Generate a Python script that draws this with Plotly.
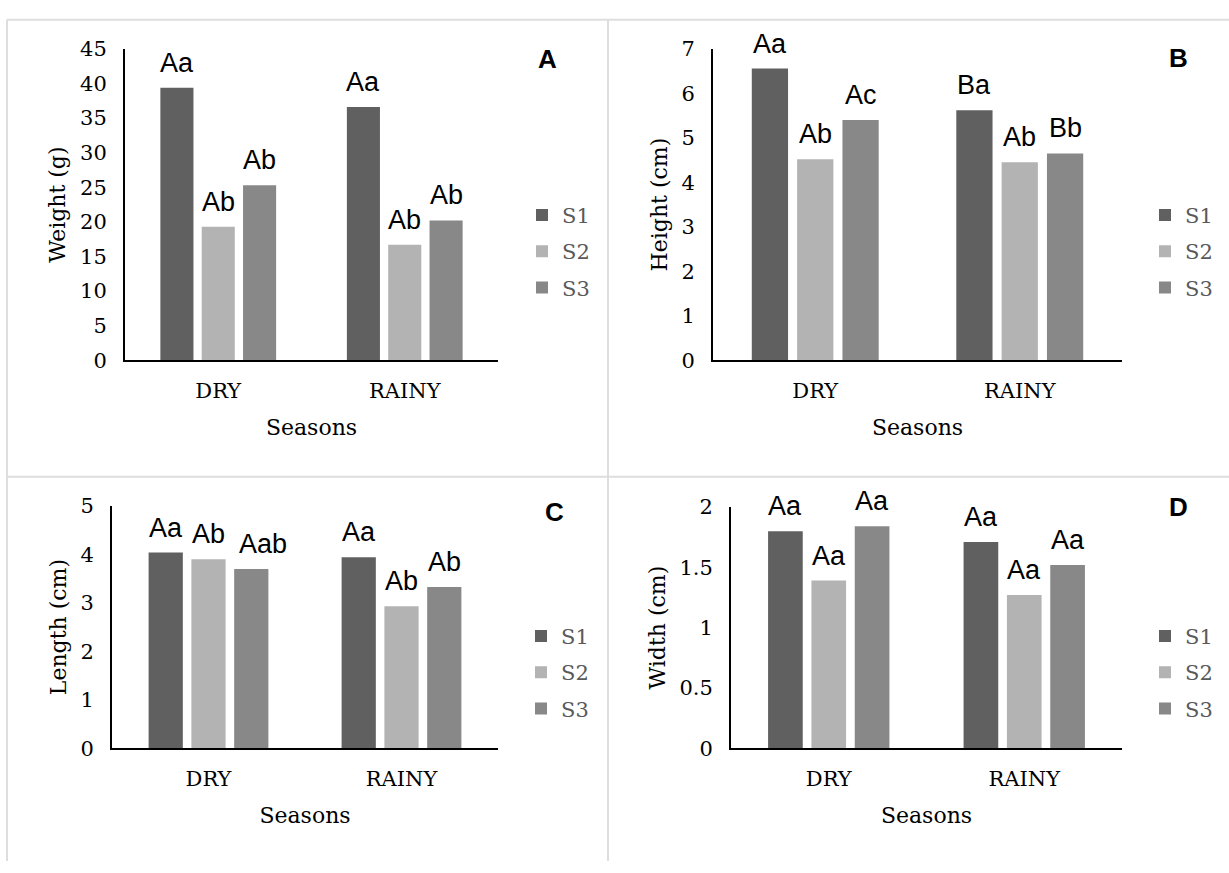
import plotly.graph_objects as go

# ---------------- data ----------------
seasons = ["DRY", "RAINY"]
series = ["S1", "S2", "S3"]

weight_S1 = [39.4, 36.6]
weight_S2 = [19.3, 16.7]
weight_S3 = [25.3, 20.2]
weight_lbl_S1 = ["Aa", "Aa"]
weight_lbl_S2 = ["Ab", "Ab"]
weight_lbl_S3 = ["Ab", "Ab"]

height_S1 = [6.56, 5.62]
height_S2 = [4.52, 4.45]
height_S3 = [5.40, 4.65]
height_lbl_S1 = ["Aa", "Ba"]
height_lbl_S2 = ["Ab", "Ab"]
height_lbl_S3 = ["Ac", "Bb"]

length_S1 = [4.04, 3.94]
length_S2 = [3.90, 2.93]
length_S3 = [3.70, 3.33]
length_lbl_S1 = ["Aa", "Aa"]
length_lbl_S2 = ["Ab", "Ab"]
length_lbl_S3 = ["Aab", "Ab"]

width_S1 = [1.80, 1.71]
width_S2 = [1.39, 1.27]
width_S3 = [1.84, 1.52]
width_lbl_S1 = ["Aa", "Aa"]
width_lbl_S2 = ["Aa", "Aa"]
width_lbl_S3 = ["Aa", "Aa"]

# ---------------- style ----------------
W, H = 1229, 873
colors = {"S1": "#606060", "S2": "#b3b3b3", "S3": "#888888"}
SERIF = "DejaVu Serif"
SANS = "Liberation Sans, Arial"
BARGAP = 0.335
BARGROUPGAP = 0.2
# small horizontal nudges of individual letter labels (panel, series index, season index)
label_xshift = {("C", 2, 0): 12}

def px_x(p):
    return p / W

def px_y(p):
    return 1 - p / H

panels = [
    dict(tag="A", ax="", title="Weight (g)", rng=[0, 45], dtick=5,
         vals=[weight_S1, weight_S2, weight_S3],
         lbls=[weight_lbl_S1, weight_lbl_S2, weight_lbl_S3],
         xdom=[px_x(125), px_x(498)], ydom=[px_y(358), px_y(38)],
         legend="legend", leg_x=544, leg_y=246, tag_x=547, tag_y=48),
    dict(tag="B", ax="2", title="Height (cm)", rng=[0, 7], dtick=1,
         vals=[height_S1, height_S2, height_S3],
         lbls=[height_lbl_S1, height_lbl_S2, height_lbl_S3],
         xdom=[px_x(713), px_x(1122)], ydom=[px_y(358), px_y(38)],
         legend="legend2", leg_x=1167, leg_y=246, tag_x=1178, tag_y=47),
    dict(tag="C", ax="3", title="Length (cm)", rng=[0, 5], dtick=1,
         vals=[length_S1, length_S2, length_S3],
         lbls=[length_lbl_S1, length_lbl_S2, length_lbl_S3],
         xdom=[px_x(112), px_x(498)], ydom=[px_y(757), px_y(508)],
         legend="legend3", leg_x=543, leg_y=679, tag_x=554, tag_y=514),
    dict(tag="D", ax="4", title="Width (cm)", rng=[0, 2], dtick=0.5,
         vals=[width_S1, width_S2, width_S3],
         lbls=[width_lbl_S1, width_lbl_S2, width_lbl_S3],
         xdom=[px_x(731), px_x(1122)], ydom=[px_y(757), px_y(509)],
         legend="legend4", leg_x=1167, leg_y=679, tag_x=1178, tag_y=509),
]

fig = go.Figure()
annotations = []
layout = {}
slot = (1 - BARGAP) / 3

for p in panels:
    xa = "x" + p["ax"]
    ya = "y" + p["ax"]
    for j, s in enumerate(series):
        fig.add_trace(go.Bar(
            x=seasons, y=p["vals"][j], name=s,
            marker=dict(color=colors[s], line=dict(width=0)),
            xaxis=xa, yaxis=ya,
            legend=p["legend"], legendgroup=p["tag"] + s,
            showlegend=True, hoverinfo="skip",
        ))
        for i, season in enumerate(seasons):
            annotations.append(dict(
                x=i + (j - 1) * slot, y=p["vals"][j][i],
                xref=xa, yref=ya, text=p["lbls"][j][i],
                showarrow=False, yanchor="bottom", xanchor="center",
                yshift=8, xshift=label_xshift.get((p["tag"], j, i), 0),
                font=dict(family=SANS, size=27, color="#000000"),
            ))
    annotations.append(dict(
        x=px_x(p["tag_x"]), y=px_y(p["tag_y"]), xref="paper", yref="paper",
        text="<b>" + p["tag"] + "</b>", showarrow=False,
        xanchor="center", yanchor="middle",
        font=dict(family=SANS, size=26, color="#000000"),
    ))
    xkey = "xaxis" + p["ax"]
    ykey = "yaxis" + p["ax"]
    layout[xkey] = dict(
        domain=p["xdom"], anchor=ya, type="category", range=[-0.5, 1.5],
        showline=True, linecolor="#000000", linewidth=2, showgrid=False,
        zeroline=False, ticks="", ticklabelstandoff=11,
        tickfont=dict(family=SERIF, size=21, color="#000000"),
        title=dict(text="Seasons", standoff=17,
                   font=dict(family=SERIF, size=22, color="#000000")),
        fixedrange=True,
    )
    layout[ykey] = dict(
        domain=p["ydom"], anchor=xa, range=p["rng"], dtick=p["dtick"],
        tick0=0, showline=True, linecolor="#000000", linewidth=2,
        showgrid=False, zeroline=False, ticks="", ticklabelstandoff=12,
        tickfont=dict(family=SERIF, size=21, color="#000000"),
        title=dict(text=p["title"], standoff=8,
                   font=dict(family=SERIF, size=22, color="#000000")),
        fixedrange=True,
    )
    layout[p["legend"]] = dict(
        x=px_x(p["leg_x"] - 22), y=px_y(p["leg_y"]),
        xanchor="left", yanchor="middle", orientation="v",
        tracegroupgap=6, bgcolor="rgba(0,0,0,0)",
        font=dict(family=SERIF, size=21, color="#595959"),
    )

# panel border lines
line_col = "#dedede"
shapes = [
    dict(type="line", xref="paper", yref="paper", x0=px_x(7), x1=1, y0=px_y(8), y1=px_y(8),
         line=dict(color=line_col, width=2)),
    dict(type="line", xref="paper", yref="paper", x0=px_x(7), x1=px_x(7), y0=px_y(8), y1=0,
         line=dict(color=line_col, width=2)),
    dict(type="line", xref="paper", yref="paper", x0=px_x(608), x1=px_x(608), y0=px_y(8), y1=0,
         line=dict(color=line_col, width=2)),
    dict(type="line", xref="paper", yref="paper", x0=px_x(7), x1=1, y0=px_y(478), y1=px_y(478),
         line=dict(color=line_col, width=2)),
]

fig.update_layout(
    width=W, height=H, margin=dict(l=0, r=0, t=0, b=0),
    paper_bgcolor="#ffffff", plot_bgcolor="#ffffff",
    barmode="group", bargap=BARGAP, bargroupgap=BARGROUPGAP,
    annotations=annotations, shapes=shapes, **layout,
)

fig.write_html(
    "out.html",
    config={"displayModeBar": False},
    post_script="document.body.style.margin='0';document.body.style.overflow='hidden';",
)
